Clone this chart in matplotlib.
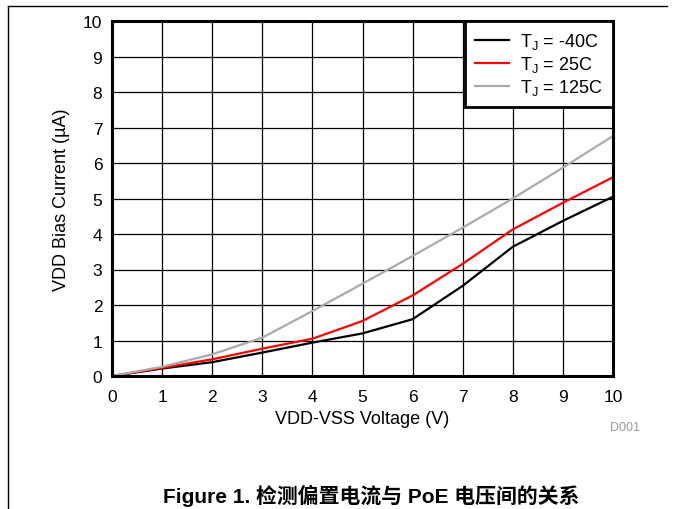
import matplotlib
matplotlib.use('Agg')
import matplotlib.pyplot as plt
from matplotlib.lines import Line2D

plt.rcParams['font.family'] = ['Liberation Sans', 'Noto Sans CJK SC', 'DejaVu Sans']
plt.rcParams['mathtext.fontset'] = 'custom'
plt.rcParams['mathtext.rm'] = 'Liberation Sans'
plt.rcParams['mathtext.it'] = 'Liberation Sans'

voltage = [0, 1, 2, 3, 4, 5, 6, 7, 8, 9, 10]
i_m40 = [0, 0.21, 0.39, 0.66, 0.94, 1.2, 1.6, 2.54, 3.64, 4.37, 5.05]
i_25 = [0, 0.23, 0.47, 0.77, 1.05, 1.55, 2.27, 3.16, 4.13, 4.88, 5.6]
i_125 = [0, 0.26, 0.61, 1.08, 1.83, 2.6, 3.38, 4.18, 5.0, 5.87, 6.76]
labels = ['T$_\\mathregular{J}$ = -40C', 'T$_\\mathregular{J}$ = 25C', 'T$_\\mathregular{J}$ = 125C']
colors = ['black', '#ff0000', '#aaaaaa']

fig = plt.figure(figsize=(6.73, 5.10), dpi=100)
ax = fig.add_axes([112 / 673, 1 - 377 / 510, 501 / 673, 355 / 510])

for y, lab, c in zip([i_m40, i_25, i_125], labels, colors):
    ax.plot(voltage, y, color=c, lw=1.6, label=lab)

ax.set_xlim(0, 10)
ax.set_ylim(0, 10)
ax.set_xticks(range(0, 11))
ax.set_yticks(range(0, 11))
ax.grid(True, color='black', lw=0.9)
ax.set_axisbelow(True)
ax.tick_params(length=0, labelsize=12.5)
ax.tick_params(axis='x', pad=9)
ax.tick_params(axis='y', pad=7)
for s in ax.spines.values():
    s.set_linewidth(2.2)
ax.set_xlabel('VDD-VSS Voltage (V)', fontsize=13, labelpad=5)
ax.set_ylabel('VDD Bias Current (µA)', fontsize=13, labelpad=9)

leg = ax.legend(loc='upper right', fontsize=13, frameon=True, fancybox=False,
                borderaxespad=0, handlelength=1.9, handletextpad=0.6,
                labelspacing=0.18, borderpad=0.55)
leg.get_frame().set_edgecolor('black')
leg.get_frame().set_linewidth(2.0)
leg.get_frame().set_alpha(1)

fig.text(625 / 673, 1 - 428 / 510, 'D001', color='#999999', fontsize=9,
         ha='center', va='center')
fig.text(371 / 673, 1 - 496 / 510, 'Figure 1. 检测偏置电流与 PoE 电压间的关系',
         fontsize=15, fontweight='bold', ha='center', va='center')

# outer frame (top and left only)
fig.add_artist(Line2D([8 / 673, 667 / 673], [1 - 7 / 510, 1 - 7 / 510],
                      transform=fig.transFigure, color='black', lw=1))
fig.add_artist(Line2D([8 / 673, 8 / 673], [1 - 7 / 510, 0],
                      transform=fig.transFigure, color='black', lw=1))

fig.savefig('out.png', dpi=100)
